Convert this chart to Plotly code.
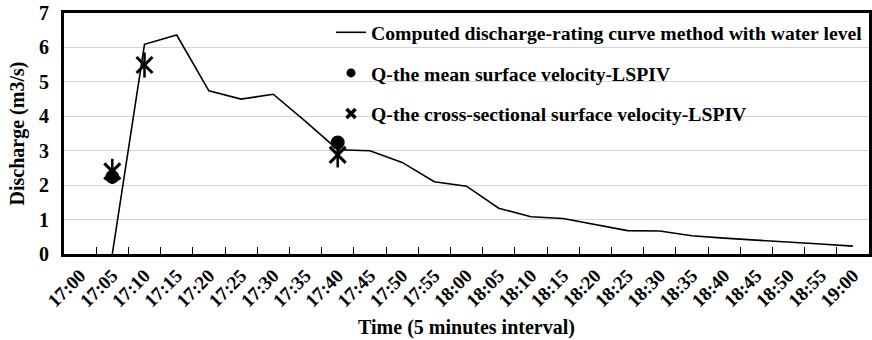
import plotly.graph_objects as go

# Time categories at 5-minute intervals
times = ["17:00", "17:05", "17:10", "17:15", "17:20", "17:25", "17:30", "17:35",
         "17:40", "17:45", "17:50", "17:55", "18:00", "18:05", "18:10", "18:15",
         "18:20", "18:25", "18:30", "18:35", "18:40", "18:45", "18:50", "18:55",
         "19:00"]

# Discharge from the rating curve using water level (m3/s)
rating_q = [None, 0.0, 6.09, 6.36, 4.74, 4.50, 4.64, 3.85, 3.03, 3.00, 2.66,
            2.10, 1.97, 1.33, 1.08, 1.03, 0.86, 0.68, 0.67, 0.53, 0.46, 0.41,
            0.36, 0.29, 0.23]

# LSPIV estimates
mean_vel_times = ["17:05", "17:40"]
mean_vel_q = [2.24, 3.24]

cross_vel_times = ["17:05", "17:10", "17:40"]
cross_vel_q = [2.40, 5.49, 2.88]

name_line = "Computed discharge-rating curve method with water level"
name_mean = "Q-the mean surface velocity-LSPIV"
name_cross = "Q-the cross-sectional surface velocity-LSPIV"

FONT = "Liberation Serif"
INK = "black"

fig = go.Figure()

fig.add_trace(go.Scatter(x=times, y=rating_q, mode="lines",
                         line=dict(color=INK, width=1.6),
                         showlegend=False, hoverinfo="skip"))

fig.add_trace(go.Scatter(x=mean_vel_times, y=mean_vel_q, mode="markers",
                         marker=dict(symbol="circle", size=14, color=INK),
                         showlegend=False))

# Star marker: an x with a vertical stroke through it
fig.add_trace(go.Scatter(x=cross_vel_times, y=cross_vel_q, mode="markers",
                         marker=dict(symbol="x-thin-open", size=16, color=INK,
                                     line=dict(color=INK, width=3)),
                         showlegend=False))
fig.add_trace(go.Scatter(x=cross_vel_times, y=cross_vel_q, mode="markers",
                         marker=dict(symbol="line-ns-open", size=18, color=INK,
                                     line=dict(color=INK, width=2.5)),
                         showlegend=False))

# Legend entries
fig.add_trace(go.Scatter(x=[None], y=[None], mode="lines", name=name_line,
                         legendgroup="a",
                         line=dict(color=INK, width=1.6)))
fig.add_trace(go.Scatter(x=[None], y=[None], mode="markers", name=name_mean,
                         legendgroup="b",
                         marker=dict(symbol="circle", size=9, color=INK)))
fig.add_trace(go.Scatter(x=[None], y=[None], mode="markers", name=name_cross,
                         legendgroup="c",
                         marker=dict(symbol="x-thin-open", size=9, color=INK,
                                     line=dict(color=INK, width=3.5))))

fig.update_layout(
    width=872, height=340,
    margin=dict(l=64, r=3, t=13, b=86, autoexpand=False),
    paper_bgcolor="white", plot_bgcolor="white",
    font=dict(family=FONT, color=INK, size=19),
    legend=dict(x=0.3317, y=1.0, xanchor="left", yanchor="top",
                bgcolor="rgba(0,0,0,0)", borderwidth=0,
                traceorder="grouped", tracegroupgap=12,
                font=dict(family=FONT, size=19.7, weight="bold")),
    xaxis=dict(type="category", categoryorder="array", categoryarray=times,
               range=[-0.5, len(times) - 0.5], automargin=False,
               tickson="boundaries", ticks="inside", ticklen=7,
               tickwidth=1, tickcolor=INK, ticklabelstandoff=0,
               showline=True, linecolor=INK, linewidth=3, mirror=True,
               showgrid=False, tickangle=-45,
               tickfont=dict(family=FONT, size=19, weight="bold"),
               title=dict(text="Time (5 minutes interval)", standoff=10,
                          font=dict(family=FONT, size=20, weight="bold"))),
    yaxis=dict(range=[0, 7], dtick=1, ticks="", ticklabelstandoff=8,
               automargin=False,
               showline=True, linecolor=INK, linewidth=3, mirror=True,
               showgrid=True, gridcolor="#d4d4d4", gridwidth=1,
               zeroline=False,
               tickfont=dict(family=FONT, size=20, weight="bold"),
               title=dict(text="Discharge (m3/s)", standoff=10,
                          font=dict(family=FONT, size=20, weight="bold"))),
)

fig.write_html("out.html")
